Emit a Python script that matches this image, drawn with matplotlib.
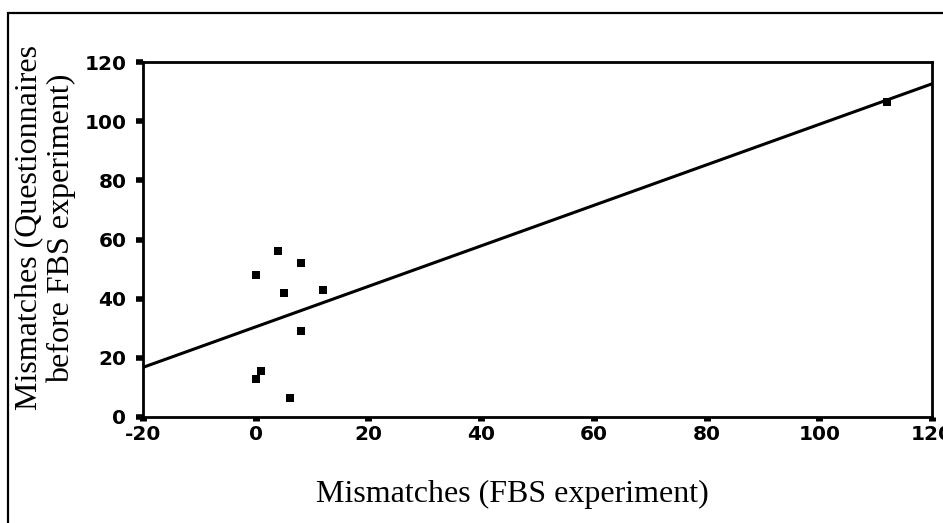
import numpy as np
import matplotlib
matplotlib.use("Agg")
import matplotlib.pyplot as plt
from matplotlib.patches import Rectangle

# Valores
fbs = [0, 0, 1, 4, 5, 6, 8, 8, 12, 112]
cuestionarios = [48, 13, 15.5, 56, 42, 6.5, 52, 29, 43, 106.5]
x_ticks = [-20, 0, 20, 40, 60, 80, 100, 120]
y_ticks = [0, 20, 40, 60, 80, 100, 120]

plt.rcParams["axes.unicode_minus"] = False

fig = plt.figure(figsize=(9.43, 5.23), dpi=100)
ax = fig.add_axes([143 / 943, 1 - 417 / 523, 789 / 943, 355 / 523])

# recta de regresión
pend, inter = np.polyfit(fbs, cuestionarios, 1)
xs = np.array([-20, 120])
ax.plot(xs, pend * xs + inter, color="black", lw=2.2)
ax.plot(fbs, cuestionarios, "s", color="black", ms=6, mew=0)

ax.set_xlim(-20, 120)
ax.set_ylim(0, 120)
ax.set_xticks(x_ticks)
ax.set_yticks(y_ticks)
for s in ax.spines.values():
    s.set_linewidth(2)

ax.tick_params(axis="x", direction="out", length=3, width=5, pad=3)
ax.tick_params(axis="y", direction="out", length=5, width=4, pad=7)
for lab in ax.get_xticklabels() + ax.get_yticklabels():
    lab.set_family("DejaVu Sans")
    lab.set_fontsize(14.5)
    lab.set_fontweight("semibold")

fig.text(45 / 943, 1 - 228 / 523, "Mismatches (Questionnaires\nbefore FBS experiment)",
         rotation=90, ha="center", va="center", multialignment="center",
         family="Liberation Serif", fontsize=23, linespacing=1.15)
fig.text(512 / 943, 1 - 502 / 523, "Mismatches (FBS experiment)",
         ha="center", va="baseline", family="Liberation Serif", fontsize=23)

# marco exterior
fig.patches.append(Rectangle((8 / 943, -0.1), 1.2, 1 - 13 / 523 + 0.1,
                             transform=fig.transFigure, fill=False,
                             edgecolor="black", lw=1.6))

fig.savefig("out.png", dpi=100)
